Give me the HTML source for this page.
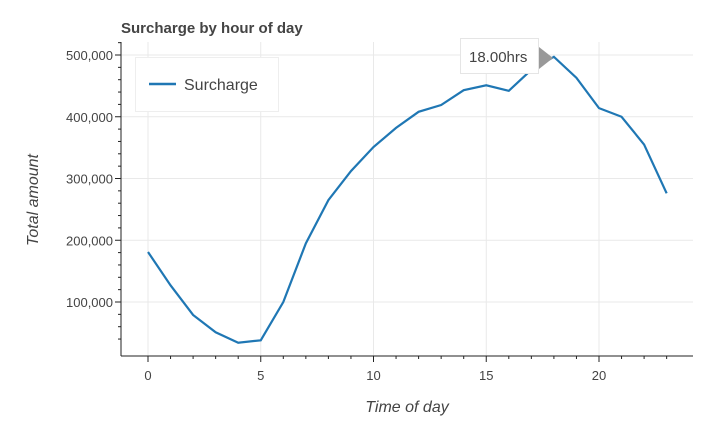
<!DOCTYPE html>
<html><head><meta charset="utf-8"><style>
body{margin:0;background:#fff;width:717px;height:432px;overflow:hidden}
svg{font-family:"Liberation Sans",Arial,sans-serif}
</style></head><body>
<svg id="c" width="717" height="432" xmlns="http://www.w3.org/2000/svg">
<text x="121" y="33" font-size="15" font-weight="bold" fill="#444">Surcharge by hour of day</text>
<g id="grid"></g>
<g id="axes"></g>
<path id="line" fill="none" stroke="#1f77b4" stroke-width="2.2"/>
<g>
<rect x="135.5" y="57.5" width="143" height="54" fill="#fff" stroke="#eee"/>
<line x1="149" y1="84" x2="176" y2="84" stroke="#1f77b4" stroke-width="2.5"/>
<text x="184" y="90" font-size="16" fill="#444">Surcharge</text>
</g>
<g>
<rect x="460.5" y="38.5" width="78" height="35" fill="#fff" stroke="#e5e5e5"/>
<text x="469" y="62" font-size="15" fill="#444">18.00hrs</text>
<polygon points="539,47 553,58 539,69" fill="#999"/>
</g>
<text x="407" y="412" font-size="16" font-style="italic" fill="#444" text-anchor="middle">Time of day</text>
<text transform="translate(38,200) rotate(-90)" font-size="16" font-style="italic" fill="#444" text-anchor="middle">Total amount</text>
</svg>
<script>
const hours=[0,1,2,3,4,5,6,7,8,9,10,11,12,13,14,15,16,17,18,19,20,21,22,23];
const surcharge=[181000,127000,79000,51000,34000,38000,100000,195000,265000,312000,351000,382000,408000,419000,443000,451000,442000,476000,497000,463000,414000,400000,355000,276000];
const xTicks=[0,5,10,15,20];
const yTicks=[100000,200000,300000,400000,500000];
const yTickLabels=["100,000","200,000","300,000","400,000","500,000"];
const NS="http://www.w3.org/2000/svg";
const L=121,R=693,T=42,B=356;
const xs=v=>148+v*22.55;
const ys=v=>363.75-v*0.0006175;
function mk(t,a,p){const e=document.createElementNS(NS,t);for(const k in a)e.setAttribute(k,a[k]);p.appendChild(e);return e;}
const g=document.getElementById('grid'),ax=document.getElementById('axes');
xTicks.forEach(t=>{const e=mk('line',{x1:xs(t),x2:xs(t),y1:T,y2:B,stroke:'#e9e9e9'},g);

});
yTicks.forEach(t=>{const e=mk('line',{x1:L,x2:R,y1:ys(t),y2:ys(t),stroke:'#e9e9e9'},g);

});
mk('line',{x1:L,x2:L,y1:T,y2:B,stroke:'#222'},ax);
mk('line',{x1:L,x2:R,y1:B,y2:B,stroke:'#222'},ax);
for(let v=0;v<=23;v++){mk('line',{x1:xs(v),x2:xs(v),y1:B,y2:B+(v%5==0?6:3),stroke:'#222'},ax);}
for(let v=40000;v<=520000;v+=20000){const maj=v%100000==0;mk('line',{x1:L-(maj?6:3),x2:L,y1:ys(v),y2:ys(v),stroke:'#222'},ax);}
xTicks.forEach(t=>{const e=mk('text',{x:xs(t),y:B+24,'font-size':13,fill:'#444','text-anchor':'middle'},ax);e.textContent=t;

});
yTicks.forEach((t,i)=>{const e=mk('text',{x:L-8,y:ys(t)+5,'font-size':13,fill:'#444','text-anchor':'end'},ax);e.textContent=yTickLabels[i];

});
document.getElementById('line').setAttribute('d',hours.map((h,i)=>(i?'L':'M')+xs(h)+','+ys(surcharge[i])).join(''));
</script>
</body></html>
